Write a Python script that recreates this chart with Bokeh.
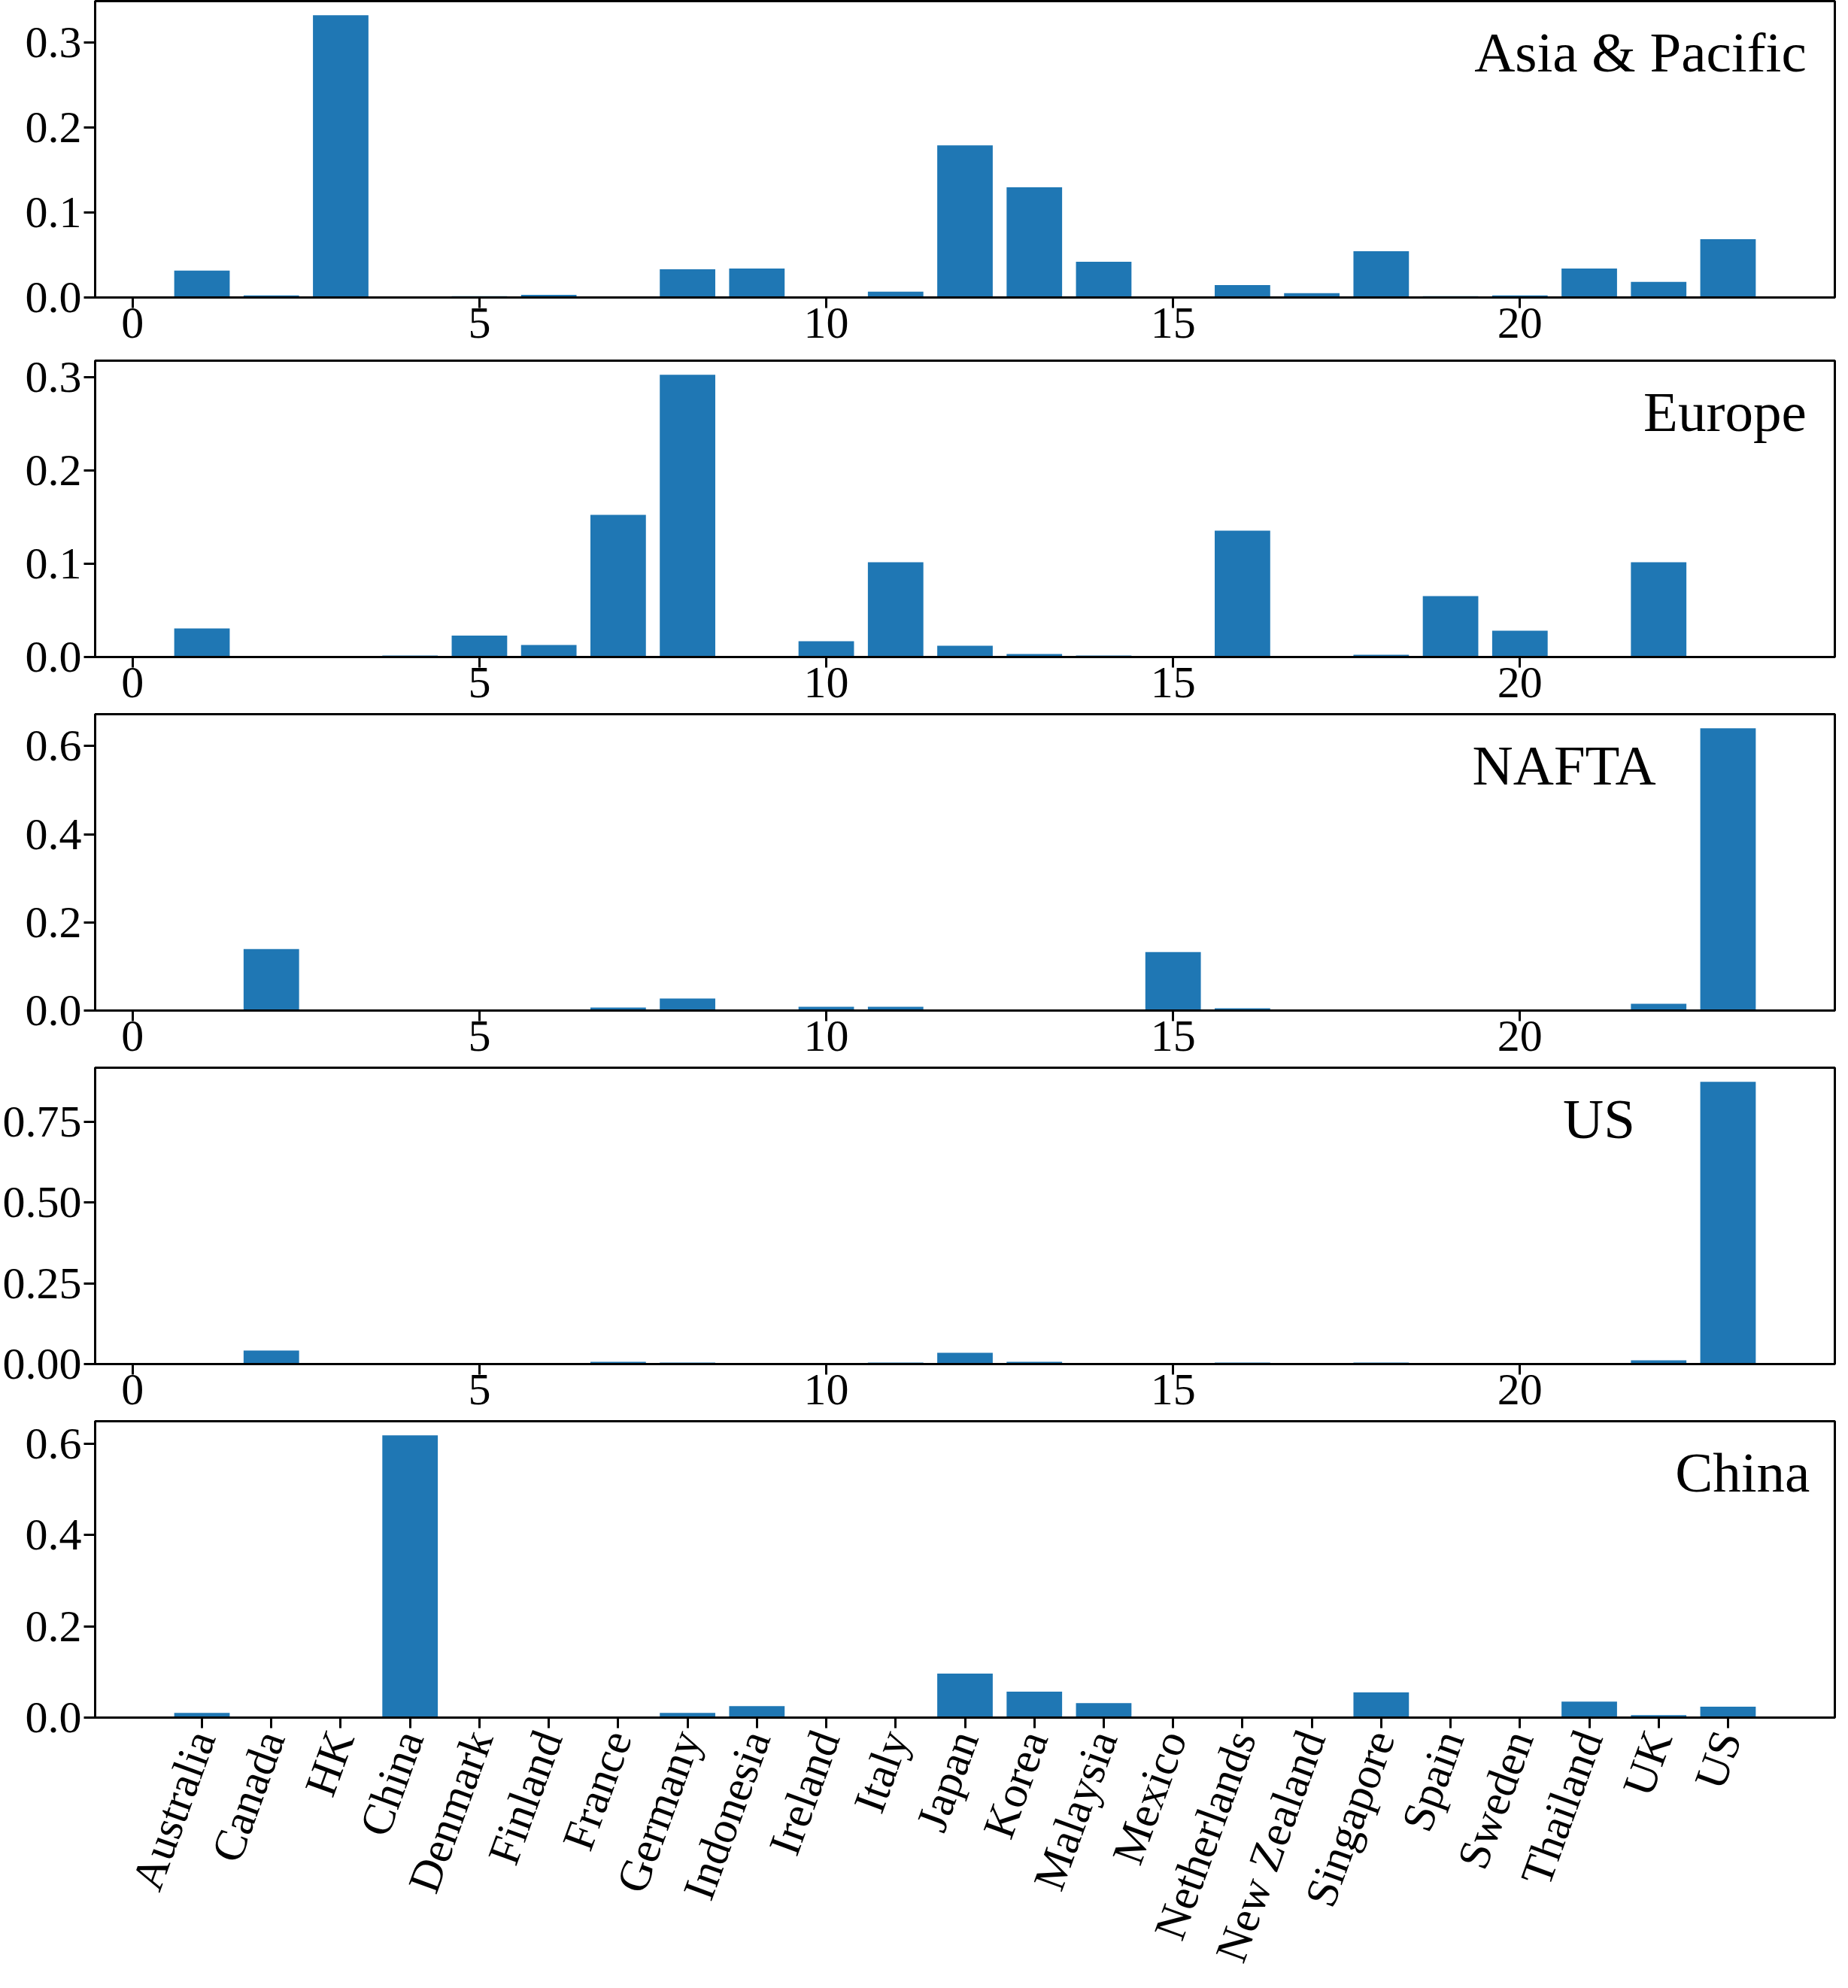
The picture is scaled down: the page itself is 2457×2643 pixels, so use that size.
import math
from bokeh.plotting import figure
from bokeh.layouts import column
from bokeh.models import FixedTicker, Range1d, Label, NumeralTickFormatter, ColumnDataSource
from bokeh.embed import file_html
from bokeh.resources import INLINE

# ---------------- data ----------------
countries = ["Australia", "Canada", "HK", "China", "Denmark", "Finland", "France",
             "Germany", "Indonesia", "Ireland", "Italy", "Japan", "Korea", "Malaysia",
             "Mexico", "Netherlands", "New Zealand", "Singapore", "Spain", "Sweden",
             "Thailand", "UK", "US"]
positions = list(range(1, 24))

asia_pacific = [0.0316, 0.0024, 0.3325, 0.0, 0.0015, 0.0032, 0.0, 0.0333, 0.0342, 0.0,
                0.0068, 0.1793, 0.1298, 0.0422, 0.0, 0.0147, 0.0050, 0.0546, 0.0015,
                0.0024, 0.0342, 0.0183, 0.0687]
europe = [0.0307, 0.0, 0.0, 0.0016, 0.0229, 0.0129, 0.1525, 0.3027, 0.0, 0.0169,
          0.1017, 0.0121, 0.0032, 0.0016, 0.0, 0.1356, 0.0008, 0.0024, 0.0654,
          0.0282, 0.0008, 0.1017, 0.0]
nafta = [0.0, 0.1397, 0.0, 0.0, 0.0, 0.0, 0.0068, 0.0273, 0.0, 0.0085, 0.0085, 0.0,
         0.0, 0.0, 0.1329, 0.0051, 0.0, 0.0, 0.0, 0.0, 0.0, 0.0153, 0.6405]
us = [0.0, 0.0418, 0.0, 0.0, 0.0, 0.0, 0.0070, 0.0046, 0.0, 0.0, 0.0046, 0.0349,
      0.0070, 0.0, 0.0, 0.0046, 0.0, 0.0046, 0.0, 0.0, 0.0, 0.0116, 0.8738]
china = [0.0105, 0.0, 0.0, 0.6182, 0.0, 0.0, 0.0, 0.0105, 0.0253, 0.0022, 0.0,
         0.0963, 0.0567, 0.0319, 0.0, 0.0, 0.0022, 0.0550, 0.0, 0.0, 0.0352, 0.0055,
         0.0237]

panel_names = ["Asia & Pacific", "Europe", "NAFTA", "US", "China"]
panel_values = [asia_pacific, europe, nafta, us, china]
panel_yticks = [[0.0, 0.1, 0.2, 0.3], [0.0, 0.1, 0.2, 0.3], [0.0, 0.2, 0.4, 0.6],
                [0.0, 0.25, 0.5, 0.75], [0.0, 0.2, 0.4, 0.6]]
panel_yfmt = ["0.0", "0.0", "0.0", "0.00", "0.0"]
x_ticks_top = [0, 5, 10, 15, 20]

# ---------------- style ----------------
FONT = "Liberation Serif"
BAR_COLOR = "#1f77b4"
FRAME_W = 2313
FRAME_H = 394
TITLE_X = [24.13, 24.13, 21.96, 21.66, 24.18]   # right edge of panel name (data units)
TITLE_DROP = 68.0 / 394.0                          # baseline drop from top, fraction of panel
BORDER_TOP = [1, 10, 2, 2, 2]
BORDER_BOTTOM = [74, 74, 74, 74, 322]

figs = []
n = len(panel_names)
for i in range(n):
    vals = panel_values[i]
    last = (i == n - 1)
    ytop = max(vals) * 1.05
    p = figure(frame_width=FRAME_W, frame_height=FRAME_H,
               x_range=Range1d(-0.54, 24.54), y_range=Range1d(0, ytop),
               output_backend="svg", toolbar_location=None,
               min_border_left=124, min_border_right=4,
               min_border_top=BORDER_TOP[i], min_border_bottom=BORDER_BOTTOM[i])
    src = ColumnDataSource(data=dict(x=positions, top=vals))
    p.vbar(x="x", top="top", width=0.8, source=src, fill_color=BAR_COLOR,
           line_color=None)

    p.grid.visible = False
    p.outline_line_color = "black"
    p.outline_line_width = 3
    p.outline_line_alpha = 1.0
    p.background_fill_color = "white"
    p.border_fill_color = "white"

    for ax in (p.xaxis[0], p.yaxis[0]):
        ax.axis_line_width = 3
        ax.axis_line_color = "black"
        ax.major_tick_line_width = 3
        ax.major_tick_line_color = "black"
        ax.major_tick_in = 0
        ax.minor_tick_line_color = None
        ax.major_label_text_font = FONT
        ax.major_label_text_font_size = "60px"
        ax.major_label_text_color = "black"

    p.yaxis.ticker = FixedTicker(ticks=panel_yticks[i])
    p.yaxis.formatter = NumeralTickFormatter(format=panel_yfmt[i])
    p.yaxis.major_tick_out = 15
    p.yaxis.major_label_standoff = 3

    p.xaxis.major_tick_out = 14
    if last:
        p.xaxis.major_label_standoff = 6
        p.xaxis.ticker = FixedTicker(ticks=positions)
        p.xaxis.major_label_overrides = {pos: name for pos, name in zip(positions, countries)}
        p.xaxis.major_label_orientation = math.radians(70)
    else:
        p.xaxis.major_label_standoff = 0
        p.xaxis.ticker = FixedTicker(ticks=x_ticks_top)

    p.add_layout(Label(x=TITLE_X[i], y=ytop * (1 - TITLE_DROP), text=panel_names[i],
                       text_align="right", text_baseline="alphabetic",
                       text_font=FONT, text_font_size="75px", text_color="black"))
    figs.append(p)

layout = column(*figs, spacing=0)
open("out.html", "w").write(file_html(layout, INLINE))
